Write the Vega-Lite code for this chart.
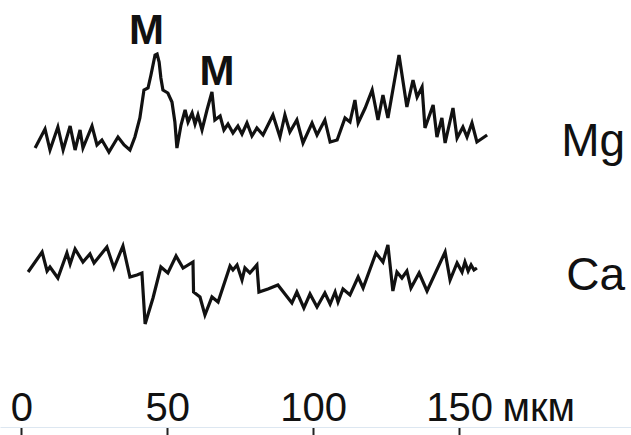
{
  "$schema": "https://vega.github.io/schema/vega-lite/v6.json",
  "width": 631,
  "height": 427,
  "autosize": {"type": "pad"},
  "padding": 0,
  "background": "white",
  "config": {"view": {"stroke": null}},
  "datasets": {
    "profiles": [
      {"element":"Mg","um":4.7,"signal":271},{"element":"Mg","um":8.1,"signal":290},{"element":"Mg","um":9.8,"signal":269},{"element":"Mg","um":12.5,"signal":292},{"element":"Mg","um":14.3,"signal":269},{"element":"Mg","um":16.7,"signal":293},{"element":"Mg","um":18.4,"signal":269},{"element":"Mg","um":20.1,"signal":289},{"element":"Mg","um":21.1,"signal":271},{"element":"Mg","um":24.2,"signal":293},{"element":"Mg","um":25.9,"signal":274},{"element":"Mg","um":27.6,"signal":279},{"element":"Mg","um":30.0,"signal":267},{"element":"Mg","um":33.1,"signal":282},{"element":"Mg","um":35.2,"signal":274},{"element":"Mg","um":37.2,"signal":269},{"element":"Mg","um":38.9,"signal":282},{"element":"Mg","um":40.6,"signal":301},{"element":"Mg","um":42.0,"signal":329},{"element":"Mg","um":43.4,"signal":331},{"element":"Mg","um":44.4,"signal":344},{"element":"Mg","um":45.8,"signal":364},{"element":"Mg","um":46.5,"signal":365},{"element":"Mg","um":47.2,"signal":357},{"element":"Mg","um":47.8,"signal":341},{"element":"Mg","um":48.5,"signal":329},{"element":"Mg","um":50.2,"signal":326},{"element":"Mg","um":51.6,"signal":317},{"element":"Mg","um":52.6,"signal":297},{"element":"Mg","um":53.3,"signal":271},{"element":"Mg","um":54.7,"signal":294},{"element":"Mg","um":56.1,"signal":309},{"element":"Mg","um":57.1,"signal":297},{"element":"Mg","um":58.5,"signal":306},{"element":"Mg","um":59.5,"signal":295},{"element":"Mg","um":60.5,"signal":304},{"element":"Mg","um":61.9,"signal":289},{"element":"Mg","um":63.6,"signal":309},{"element":"Mg","um":65.3,"signal":327},{"element":"Mg","um":66.3,"signal":299},{"element":"Mg","um":68.1,"signal":303},{"element":"Mg","um":69.4,"signal":289},{"element":"Mg","um":70.8,"signal":295},{"element":"Mg","um":72.5,"signal":286},{"element":"Mg","um":74.2,"signal":293},{"element":"Mg","um":75.6,"signal":285},{"element":"Mg","um":77.3,"signal":296},{"element":"Mg","um":79.0,"signal":283},{"element":"Mg","um":80.7,"signal":291},{"element":"Mg","um":82.8,"signal":284},{"element":"Mg","um":86.2,"signal":304},{"element":"Mg","um":88.6,"signal":282},{"element":"Mg","um":90.3,"signal":304},{"element":"Mg","um":92.0,"signal":287},{"element":"Mg","um":94.4,"signal":299},{"element":"Mg","um":96.5,"signal":276},{"element":"Mg","um":99.6,"signal":296},{"element":"Mg","um":101.3,"signal":284},{"element":"Mg","um":104.0,"signal":299},{"element":"Mg","um":105.8,"signal":277},{"element":"Mg","um":108.2,"signal":279},{"element":"Mg","um":110.9,"signal":301},{"element":"Mg","um":112.6,"signal":297},{"element":"Mg","um":114.3,"signal":319},{"element":"Mg","um":115.4,"signal":296},{"element":"Mg","um":117.8,"signal":311},{"element":"Mg","um":120.2,"signal":329},{"element":"Mg","um":122.2,"signal":299},{"element":"Mg","um":123.9,"signal":324},{"element":"Mg","um":125.6,"signal":301},{"element":"Mg","um":129.4,"signal":364},{"element":"Mg","um":132.1,"signal":312},{"element":"Mg","um":134.2,"signal":339},{"element":"Mg","um":135.6,"signal":322},{"element":"Mg","um":137.3,"signal":332},{"element":"Mg","um":138.3,"signal":291},{"element":"Mg","um":141.1,"signal":314},{"element":"Mg","um":142.4,"signal":282},{"element":"Mg","um":144.1,"signal":301},{"element":"Mg","um":145.2,"signal":276},{"element":"Mg","um":147.9,"signal":311},{"element":"Mg","um":149.3,"signal":281},{"element":"Mg","um":151.3,"signal":292},{"element":"Mg","um":152.7,"signal":282},{"element":"Mg","um":154.4,"signal":296},{"element":"Mg","um":156.1,"signal":277},{"element":"Mg","um":159.6,"signal":284},
      {"element":"Ca","um":2.3,"signal":147},{"element":"Ca","um":7.1,"signal":167},{"element":"Ca","um":8.8,"signal":148},{"element":"Ca","um":9.8,"signal":152},{"element":"Ca","um":12.5,"signal":141},{"element":"Ca","um":15.6,"signal":166},{"element":"Ca","um":16.7,"signal":155},{"element":"Ca","um":18.4,"signal":170},{"element":"Ca","um":21.1,"signal":157},{"element":"Ca","um":23.5,"signal":165},{"element":"Ca","um":24.9,"signal":156},{"element":"Ca","um":29.3,"signal":172},{"element":"Ca","um":31.7,"signal":151},{"element":"Ca","um":34.8,"signal":173},{"element":"Ca","um":37.2,"signal":142},{"element":"Ca","um":39.6,"signal":144},{"element":"Ca","um":41.3,"signal":146},{"element":"Ca","um":42.4,"signal":95},{"element":"Ca","um":45.1,"signal":121},{"element":"Ca","um":47.8,"signal":152},{"element":"Ca","um":50.2,"signal":146},{"element":"Ca","um":53.0,"signal":163},{"element":"Ca","um":55.4,"signal":151},{"element":"Ca","um":58.8,"signal":157},{"element":"Ca","um":59.0,"signal":127},{"element":"Ca","um":61.2,"signal":122},{"element":"Ca","um":62.9,"signal":104},{"element":"Ca","um":65.3,"signal":122},{"element":"Ca","um":67.4,"signal":117},{"element":"Ca","um":71.5,"signal":153},{"element":"Ca","um":72.5,"signal":149},{"element":"Ca","um":73.9,"signal":154},{"element":"Ca","um":75.6,"signal":139},{"element":"Ca","um":76.6,"signal":151},{"element":"Ca","um":78.3,"signal":146},{"element":"Ca","um":80.7,"signal":154},{"element":"Ca","um":81.4,"signal":127},{"element":"Ca","um":84.5,"signal":130},{"element":"Ca","um":87.9,"signal":134},{"element":"Ca","um":92.7,"signal":116},{"element":"Ca","um":94.4,"signal":127},{"element":"Ca","um":96.8,"signal":111},{"element":"Ca","um":98.9,"signal":125},{"element":"Ca","um":101.3,"signal":112},{"element":"Ca","um":104.0,"signal":126},{"element":"Ca","um":105.8,"signal":115},{"element":"Ca","um":107.5,"signal":127},{"element":"Ca","um":108.5,"signal":117},{"element":"Ca","um":110.2,"signal":130},{"element":"Ca","um":112.6,"signal":124},{"element":"Ca","um":115.4,"signal":142},{"element":"Ca","um":117.1,"signal":131},{"element":"Ca","um":121.5,"signal":166},{"element":"Ca","um":123.9,"signal":157},{"element":"Ca","um":125.6,"signal":174},{"element":"Ca","um":127.3,"signal":128},{"element":"Ca","um":128.7,"signal":147},{"element":"Ca","um":130.4,"signal":141},{"element":"Ca","um":132.1,"signal":148},{"element":"Ca","um":133.5,"signal":131},{"element":"Ca","um":136.3,"signal":146},{"element":"Ca","um":139.0,"signal":128},{"element":"Ca","um":145.2,"signal":167},{"element":"Ca","um":146.9,"signal":139},{"element":"Ca","um":149.3,"signal":156},{"element":"Ca","um":151.0,"signal":147},{"element":"Ca","um":152.0,"signal":157},{"element":"Ca","um":153.1,"signal":148},{"element":"Ca","um":154.1,"signal":154},{"element":"Ca","um":155.1,"signal":149},{"element":"Ca","um":156.1,"signal":151}
    ],
    "labels": [
      {"kind":"peak","text":"M","um":42.9,"signal":375},
      {"kind":"peak","text":"M","um":67.0,"signal":334},
      {"kind":"element","text":"Mg","um":206.9,"signal":263},
      {"kind":"element","text":"Ca","um":206.9,"signal":129}
    ]
  },
  "layer": [
    {
      "data": {"name": "profiles"},
      "mark": {"type": "line", "color": "#111111", "strokeWidth": 3.2, "strokeJoin": "miter"},
      "encoding": {
        "x": {
          "field": "um", "type": "quantitative",
          "scale": {"domain": [-7.33, 208.9], "nice": false, "zero": false},
          "axis": {
            "values": [0, 50, 100, 150],
            "domain": true, "domainColor": "#dde7f1", "domainWidth": 1,
            "grid": false,
            "ticks": true, "tickSize": 8, "tickWidth": 2, "tickColor": "#222222",
            "labelFont": "Liberation Sans", "labelFontSize": 40, "labelColor": "#111111",
            "labelBaseline": "alphabetic", "labelPadding": -15,
            "labelFlush": false, "labelOverlap": false, "labelBound": false,
            "title": "мкм", "titleFont": "Liberation Sans", "titleFontSize": 40,
            "titleFontWeight": "normal", "titleColor": "#111111",
            "titleAnchor": "start", "titleAlign": "left", "titleBaseline": "alphabetic",
            "titleX": 502, "titleY": -7
          }
        },
        "y": {
          "field": "signal", "type": "quantitative",
          "scale": {"domain": [-8, 419], "nice": false, "zero": false},
          "axis": null
        },
        "detail": {"field": "element"}
      }
    },
    {
      "data": {"name": "labels"},
      "transform": [{"filter": "datum.kind == 'peak'"}],
      "mark": {"type": "text", "font": "Liberation Sans", "fontSize": 42, "fontWeight": "bold", "align": "center", "baseline": "alphabetic", "color": "#111111"},
      "encoding": {
        "x": {"field": "um", "type": "quantitative"},
        "y": {"field": "signal", "type": "quantitative"},
        "text": {"field": "text"}
      }
    },
    {
      "data": {"name": "labels"},
      "transform": [{"filter": "datum.kind == 'element'"}],
      "mark": {"type": "text", "font": "Liberation Sans", "fontSize": 46, "align": "right", "baseline": "alphabetic", "color": "#111111"},
      "encoding": {
        "x": {"field": "um", "type": "quantitative"},
        "y": {"field": "signal", "type": "quantitative"},
        "text": {"field": "text"}
      }
    }
  ]
}
